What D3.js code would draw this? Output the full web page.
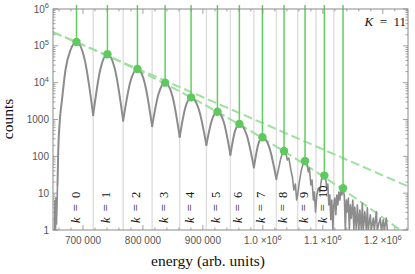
<!DOCTYPE html>
<html><head><meta charset="utf-8">
<script src="https://cdn.jsdelivr.net/npm/d3@7"></script>
<style>body{margin:0;background:#fff}svg{display:block}</style>
</head><body>
<svg id="c" width="415" height="274"></svg>
<script>
// ---------------- data ----------------
const xDomain = [650000, 1242000];
const yDomain = [1, 1e6];
const xTickValues = [700000, 800000, 900000, 1000000, 1100000, 1200000];
const xTickLabels = [["700 000"], ["800 000"], ["900 000"], ["1.0 \u00d710", "6"], ["1.1 \u00d710", "6"], ["1.2 \u00d710", "6"]];
const yTickValues = [1, 10, 100, 1000, 1e4, 1e5, 1e6];
const yTickLabels = [["1"], ["10"], ["100"], ["1000"], ["10", "4"], ["10", "5"], ["10", "6"]];

// peak positions (green markers), k = 0..11
const peakE = [689200, 740800, 790800, 837000, 880300, 924200, 960800, 999200, 1035300, 1070300, 1102500, 1133700];
const peakCounts = [127000, 58900, 23400, 10000, 3980, 1620, 759, 331, 140, 75, 30, 13.6];
// k labels (shown for k = 0..10)
const kLabels = ["0","1","2","3","4","5","6","7","8","9","10"];
// valley boundaries (light grey verticals)
const boundaryE = [717000, 767000, 815300, 861300, 905800, 945800, 985000, 1022500, 1058000, 1088500, 1118300];

// spectrum: noisy low-energy edge
const headNoise = [[652500,1],[653300,6.5],[654200,1],[655000,7.9],[655800,1.4],[656700,4.8],[657500,16.7]];
// spectrum: smooth lobes (valley, mid, peak, mid, valley ...)
const spectrumSmooth = [
  [657500,16.7],[658800,149],[660800,710],[665000,3390],[670800,22100],[679200,77100],[689200,127000],[703100,40300],
  [717000,1318],[728900,22780],[740800,58880],[753900,20890],
  [767000,933],[778900,10470],[790800,23440],[803100,9550],
  [815300,661],[826200,5070],[837000,10000],[849200,4266],
  [861300,339],[870800,2138],[880300,3981],[893100,1905],
  [905800,204],[915000,966],[924200,1622],[935000,832],
  [945800,110],[953300,468],[960800,759],[972900,385],
  [985000,50],[992100,207],[999200,331],[1010800,172],
  [1022500,24]
];
// spectrum: noisy high-energy part
const spectrumTail = [
  [1022500,24],[1025800,42.6],[1029200,79.6],[1032500,123],[1035300,140],[1038300,123],[1040800,79.6],[1043300,90],
  [1046700,42.6],[1049200,27.5],[1051700,12.2],[1054200,17.7],[1056300,6.5],[1058000,8.9],
  [1060800,20],[1064200,42.6],[1067500,66],[1070300,79.6],[1073300,66],[1075800,37.6],[1077500,48],[1080000,16.7],
  [1082000,22.8],[1084200,6.5],[1085800,10.8],[1087800,3.1],
  [1090000,8.9],[1092500,13.8],[1095000,10.8],[1097500,22.8],[1100000,25.9],[1102500,31],[1105000,22.8],[1106700,12.2],
  [1108300,17.7],[1110000,4.8],[1111700,8.9],[1113300,1.9],[1115000,6.5],[1116700,1],[1118300,4.8],
  [1120000,7.4],[1121700,2.6],[1123300,8.9],[1125000,4.8],[1126700,10.8],[1128300,6.5],[1130000,12.2],[1131700,8.9],
  [1133700,13.8],[1135800,8.4],[1137500,1],[1139200,6.5],[1140800,3.1],[1142500,7.4],[1144200,1],[1145800,4.8],
  [1147500,2.1],[1150000,6.5],[1151700,1],[1153300,4.2],[1155800,1],[1157500,4.8],[1160000,1],[1161700,3.5],
  [1164200,1],[1165800,5.4],[1167500,1],[1170000,3.1],[1172500,1],[1174200,4.0],[1175800,1],[1179200,2.6],
  [1180800,1],[1184200,2.1],[1185800,1],[1189200,3.1],[1190800,1],[1195800,2.1],[1197500,1],[1200800,1.9],
  [1202500,1],[1205800,2.1],[1207500,1]
];
// fitted envelopes (dashed green)
const fitLineA = [[650000,238000],[1242000,15.3]];
const fitCurveB = [[650000,231700],[729200,65600],[812500,14800],[895800,2900],[979200,491],[1062500,71.8],[1145800,9.1],[1229200,0.99]];

// ---------------- drawing ----------------
const L = 53, R = 408, T = 9, B = 230;
const x = d3.scaleLinear().domain(xDomain).range([L, R]);
const y = d3.scaleLog().domain(yDomain).range([B, T]);
const svg = d3.select('#c');
const frameCol = '#8a8a8a', labCol = '#555';
const tickFont = '"Liberation Sans", Arial, sans-serif';
const serif = '"Liberation Serif", "Times New Roman", serif';

svg.append('clipPath').attr('id','pc').append('rect')
  .attr('x', L).attr('y', T).attr('width', R - L).attr('height', B - T);

// valley boundaries
svg.append('g').selectAll('line').data(boundaryE).join('line')
  .attr('x1', d => x(d)).attr('x2', d => x(d)).attr('y1', T).attr('y2', B)
  .attr('stroke', '#dedede').attr('stroke-width', 1.4);

// fitted envelopes
const lineGen = d3.line().x(d => x(d[0])).y(d => y(d[1]));
const plotG = svg.append('g').attr('clip-path', 'url(#pc)');
plotG.append('path').datum(fitLineA).attr('d', lineGen)
  .attr('fill','none').attr('stroke','#9fe09f').attr('stroke-width',2).attr('stroke-dasharray','9,4');
plotG.append('path').datum(fitCurveB).attr('d', lineGen.curve(d3.curveMonotoneX))
  .attr('fill','none').attr('stroke','#9fe09f').attr('stroke-width',2).attr('stroke-dasharray','9,4');
lineGen.curve(d3.curveLinear);

// spectrum
const specCol = '#8c8c8c';
plotG.append('path').datum(headNoise).attr('d', d3.line().x(d => x(d[0])).y(d => y(d[1])))
  .attr('fill','none').attr('stroke',specCol).attr('stroke-width',1.6);
// split smooth part into lobes at the valley boundaries
const lobes = [];
let cur = [];
spectrumSmooth.forEach((p, i) => {
  cur.push(p);
  if (boundaryE.includes(p[0]) && cur.length > 1) { lobes.push(cur); cur = [p]; }
});
if (cur.length > 1) lobes.push(cur);
const lobeGen = d3.line().x(d => x(d[0])).y(d => y(d[1])).curve(d3.curveMonotoneX);
plotG.append('g').selectAll('path').data(lobes).join('path').attr('d', lobeGen)
  .attr('fill','none').attr('stroke',specCol).attr('stroke-width',2).attr('stroke-linejoin','round').attr('stroke-linecap','round');
plotG.append('path').datum(spectrumTail).attr('d', d3.line().x(d => x(d[0])).y(d => y(d[1])))
  .attr('fill','none').attr('stroke',specCol).attr('stroke-width',1.6).attr('stroke-linejoin','round');

// green peak markers
svg.append('g').selectAll('line').data(peakE).join('line')
  .attr('x1', d => x(d)).attr('x2', d => x(d)).attr('y1', T - 4).attr('y2', (d, i) => y(peakCounts[i]))
  .attr('stroke', '#62cf62').attr('stroke-width', 1.5);
svg.append('g').selectAll('circle').data(peakE).join('circle')
  .attr('cx', d => x(d)).attr('cy', (d, i) => y(peakCounts[i])).attr('r', 4.2)
  .attr('fill', '#5ec95e');

// frame
svg.append('rect').attr('x', L).attr('y', T).attr('width', R - L).attr('height', B - T)
  .attr('fill','none').attr('stroke', frameCol).attr('stroke-width', 1);

// y ticks (left & right)
const yMinor = [];
for (let e = 0; e < 6; e++) for (let m = 2; m <= 9; m++) yMinor.push(m * Math.pow(10, e));
const tg = svg.append('g').attr('stroke', frameCol).attr('stroke-width', 0.8);
yTickValues.forEach(v => {
  tg.append('line').attr('x1', L).attr('x2', L + 5).attr('y1', y(v)).attr('y2', y(v));
  tg.append('line').attr('x1', R).attr('x2', R - 5).attr('y1', y(v)).attr('y2', y(v));
});
yMinor.forEach(v => {
  tg.append('line').attr('x1', L).attr('x2', L + 2.5).attr('y1', y(v)).attr('y2', y(v));
  tg.append('line').attr('x1', R).attr('x2', R - 2.5).attr('y1', y(v)).attr('y2', y(v));
});
// x ticks (bottom & top)
const xMinor = d3.range(660000, 1242000, 20000).filter(v => v % 100000 !== 0);
xTickValues.forEach(v => {
  tg.append('line').attr('x1', x(v)).attr('x2', x(v)).attr('y1', B).attr('y2', B - 5);
  tg.append('line').attr('x1', x(v)).attr('x2', x(v)).attr('y1', T).attr('y2', T + 5);
});
xMinor.forEach(v => {
  tg.append('line').attr('x1', x(v)).attr('x2', x(v)).attr('y1', B).attr('y2', B - 2.5);
  tg.append('line').attr('x1', x(v)).attr('x2', x(v)).attr('y1', T).attr('y2', T + 2.5);
});

// y tick labels
yTickValues.forEach((v, i) => {
  const t = svg.append('text').attr('x', L - 4).attr('y', y(v) + 3.5)
    .attr('text-anchor', 'end').attr('font-family', tickFont).attr('font-size', 10).attr('fill', labCol);
  const parts = yTickLabels[i];
  t.append('tspan').text(parts[0]);
  if (parts[1]) t.append('tspan').attr('dy', -4.5).attr('font-size', 7.5).text(parts[1]);
});
// x tick labels
xTickValues.forEach((v, i) => {
  const t = svg.append('text').attr('x', x(v)).attr('y', B + 14)
    .attr('text-anchor', 'middle').attr('font-family', tickFont).attr('font-size', 10).attr('fill', labCol);
  const parts = xTickLabels[i];
  t.append('tspan').text(parts[0]);
  if (parts[1]) t.append('tspan').attr('dy', -4.5).attr('font-size', 7.5).text(parts[1]);
});

// k labels
kLabels.forEach((k, i) => {
  const t = svg.append('text').attr('transform', `translate(${x(peakE[i]) - 1},223) rotate(-90)`)
    .attr('text-anchor', 'start').attr('dominant-baseline', 'central')
    .attr('font-family', serif).attr('font-size', 12.5).attr('fill', '#111');
  t.append('tspan').attr('font-style', 'italic').text('k');
  t.append('tspan').text('\u2002=\u2002' + k);
});

// K = 11
const kt = svg.append('text').attr('x', 406).attr('y', 26).attr('text-anchor', 'end')
  .attr('font-family', serif).attr('font-size', 13).attr('fill', '#111');
kt.append('tspan').attr('font-style', 'italic').text('K');
kt.append('tspan').text('\u2002=\u200211');

// axis titles
svg.append('text').attr('x', 208).attr('y', 266).attr('text-anchor', 'middle')
  .attr('font-family', serif).attr('font-size', 15.5).attr('fill', '#111').text('energy (arb. units)');
svg.append('text').attr('transform', 'translate(13,119) rotate(-90)').attr('text-anchor', 'middle')
  .attr('font-family', serif).attr('font-size', 15.5).attr('fill', '#111').text('counts');
</script>
</body></html>
